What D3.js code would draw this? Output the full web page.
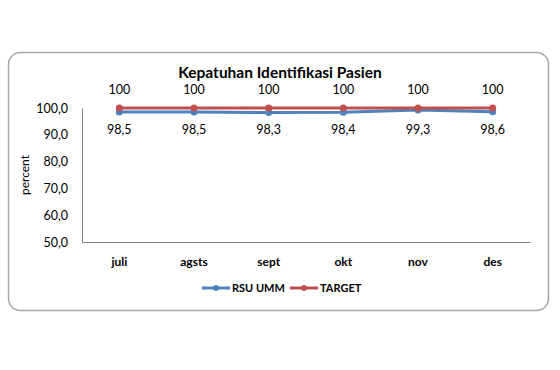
<!DOCTYPE html>
<html><head><meta charset="utf-8">
<script src="https://cdn.jsdelivr.net/npm/d3@7"></script>
<style>body{margin:0;background:#fff;}svg{display:block;font-family:Lato,"Open Sans",sans-serif;}</style>
</head><body>
<svg id="c" width="560" height="370"></svg>
<script>
const categories = ["juli","agsts","sept","okt","nov","des"];
const rsuUmm = [98.5, 98.5, 98.3, 98.4, 99.3, 98.6];
const target = [100, 100, 100, 100, 100, 100];
const yTicks = [50, 60, 70, 80, 90, 100];
const seriesNames = ["RSU UMM", "TARGET"];
const colors = ["#4F81BD", "#C0504D"];

const svg = d3.select("#c");
svg.append("rect").attr("x", 8.5).attr("y", 52.5).attr("width", 540).attr("height", 258)
  .attr("rx", 12).attr("fill", "#fff").attr("stroke", "#a6a6a6").attr("stroke-width", 1.5);

const x = d3.scaleBand().domain(categories).range([82, 530]);
const y = d3.scaleLinear().domain([50, 100]).range([242, 108]);
const fmt = d => d.toFixed(1).replace(".", ",");

svg.append("text").attr("x", 280).attr("y", 78).attr("text-anchor", "middle")
  .attr("font-size", 15.5).attr("font-weight", "bold").text("Kepatuhan Identifikasi Pasien");

const yAxis = svg.append("g").attr("transform", "translate(82,0)")
  .call(d3.axisLeft(y).tickValues(yTicks).tickFormat(fmt).tickSize(0).tickPadding(14));
yAxis.select(".domain").attr("stroke", "#868686");
yAxis.selectAll("text").attr("font-size", 12.5).attr("font-family", "Lato,'Open Sans',sans-serif").attr("fill", "#000");

const xAxis = svg.append("g").attr("transform", "translate(0,242)")
  .call(d3.axisBottom(x).tickSize(0).tickPadding(15));
xAxis.select(".domain").attr("stroke", "#868686");
xAxis.selectAll("text").attr("font-size", 12).attr("font-weight", "bold").attr("font-family", "Lato,'Open Sans',sans-serif").attr("fill", "#000");

svg.append("text").attr("transform", "translate(29,175) rotate(-90)").attr("text-anchor", "middle")
  .attr("font-size", 12).text("percent");

const cx = c => x(c) + x.bandwidth() / 2;
const line = d3.line().x((d, i) => cx(categories[i])).y(d => y(d));

[rsuUmm, target].forEach((s, k) => {
  svg.append("path").datum(s).attr("d", line).attr("fill", "none")
    .attr("stroke", colors[k]).attr("stroke-width", 3);
  svg.selectAll(null).data(s).enter().append("circle")
    .attr("cx", (d, i) => cx(categories[i])).attr("cy", d => y(d)).attr("r", 3.5).attr("fill", colors[k]);
});

svg.selectAll(null).data(target).enter().append("text")
  .attr("x", (d, i) => cx(categories[i])).attr("y", 94).attr("text-anchor", "middle")
  .attr("font-size", 12.5).text(d => d);
svg.selectAll(null).data(rsuUmm).enter().append("text")
  .attr("x", (d, i) => cx(categories[i])).attr("y", 134).attr("text-anchor", "middle")
  .attr("font-size", 12.5).text(fmt);

const legend = svg.append("g");
const lx = [202, 290];
seriesNames.forEach((n, k) => {
  legend.append("line").attr("x1", lx[k]).attr("x2", lx[k] + 28).attr("y1", 288).attr("y2", 288)
    .attr("stroke", colors[k]).attr("stroke-width", 3);
  legend.append("circle").attr("cx", lx[k] + 14).attr("cy", 288).attr("r", 3).attr("fill", colors[k]);
  legend.append("text").attr("x", lx[k] + 30).attr("y", 292).attr("font-size", 11).attr("font-weight", "bold").text(n);
});
</script>
</body></html>
